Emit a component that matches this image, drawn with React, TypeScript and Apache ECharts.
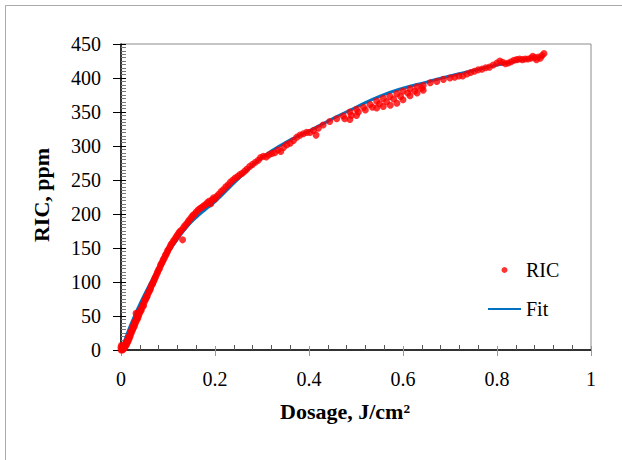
import React, { useEffect, useRef } from "react";
import * as echarts from "echarts";

// Measured RIC points: dosage (J/cm²) and RIC (ppm)
const ricDose: number[] = [
  0, 0, 0.001, 0.002, 0.003, 0.004, 0.005, 0.006, 0.007, 0.008, 0.009, 0.01, 0.011, 0.012, 0.013, 0.014,
  0.015, 0.016, 0.017, 0.018, 0.019, 0.02, 0.021, 0.022, 0.023, 0.024, 0.025, 0.026, 0.027, 0.028, 0.029,
  0.03, 0.031, 0.032, 0.033, 0.034, 0.035, 0.036, 0.037, 0.038, 0.039, 0.04, 0.042, 0.043, 0.045, 0.047,
  0.048, 0.05, 0.052, 0.053, 0.055, 0.056, 0.058, 0.06, 0.062, 0.063, 0.065, 0.067, 0.068, 0.07, 0.072,
  0.073, 0.075, 0.077, 0.078, 0.08, 0.082, 0.084, 0.085, 0.087, 0.089, 0.09, 0.092, 0.094, 0.095, 0.097,
  0.099, 0.1, 0.103, 0.105, 0.107, 0.11, 0.112, 0.115, 0.117, 0.12, 0.123, 0.125, 0.128, 0.131, 0.133,
  0.136, 0.14, 0.143, 0.146, 0.15, 0.153, 0.157, 0.16, 0.164, 0.168, 0.172, 0.176, 0.18, 0.184, 0.188,
  0.191, 0.194, 0.197, 0.2, 0.204, 0.208, 0.213, 0.218, 0.223, 0.228, 0.233, 0.238, 0.243, 0.248, 0.253,
  0.258, 0.263, 0.268, 0.274, 0.28, 0.286, 0.292, 0.297, 0.303, 0.309, 0.315, 0.321, 0.327, 0.334, 0.34,
  0.346, 0.353, 0.36, 0.367, 0.374, 0.381, 0.388, 0.395,
  0.402, 0.41, 0.415, 0.42, 0.43, 0.444, 0.459, 0.473, 0.476, 0.487, 0.487, 0.49, 0.501, 0.501, 0.505,
  0.516, 0.52, 0.53, 0.535, 0.544, 0.544, 0.55, 0.558, 0.558, 0.565, 0.572, 0.573, 0.58, 0.587, 0.587,
  0.595, 0.6, 0.6, 0.61, 0.615, 0.615, 0.625, 0.63, 0.63, 0.64, 0.643, 0.643, 0.658, 0.672, 0.686, 0.7,
  0.71, 0.719, 0.727, 0.736, 0.744, 0.752, 0.76, 0.768, 0.776, 0.784, 0.792, 0.8, 0.806, 0.812, 0.818,
  0.824, 0.83, 0.836, 0.842, 0.848, 0.854, 0.86, 0.866, 0.872, 0.876, 0.88, 0.884, 0.888, 0.892, 0.896, 0.9,
];
const ricValue: number[] = [
  0, 4, 7, 2, 0, 3, 1, 5, 3, 7, 5, 9, 7, 12, 10, 15,
  13, 18, 16, 21, 19, 25, 23, 28, 27, 31, 30, 35, 33, 38, 36,
  42, 40, 54, 46, 44, 49, 47, 53, 51, 56, 55, 59, 58, 63, 67,
  65, 71, 74, 76, 78, 80, 84, 86, 89, 91, 95, 97, 99, 102, 105,
  107, 110, 113, 115, 118, 120, 124, 126, 128, 131, 133, 135, 138, 140, 142,
  145, 147, 150, 153, 156, 158, 161, 163, 166, 169, 172, 174, 176, 162, 180,
  183, 186, 189, 192, 195, 198, 200, 203, 206, 208, 210, 212, 214, 217, 219,
  215, 221, 224, 222, 226, 229, 233, 236, 240, 243, 247, 250, 253, 255, 258,
  260, 263, 266, 270, 273, 276, 279, 283, 285, 284, 287, 289, 290, 294, 292,
  298, 302, 304, 308, 313, 316, 318, 320,
  320, 323, 316, 326, 331, 336, 340, 344, 340, 350, 339, 345, 354, 345, 350,
  357, 353, 361, 357, 366, 356, 362, 370, 358, 365, 373, 360, 369, 377, 363,
  373, 381, 368, 378, 384, 374, 381, 387, 378, 385, 389, 382, 393, 395, 398, 400,
  401, 403, 403, 406, 408, 410, 412, 413, 415, 416, 419, 422, 425, 423, 421,
  422, 424, 426, 427, 428, 427, 428, 428, 429, 432, 430, 427, 431, 429, 433, 436,
];

// Fit curve
const fitDose: number[] = [
  0, 0.01, 0.02, 0.03, 0.04, 0.06, 0.08, 0.1, 0.12, 0.14, 0.16, 0.18, 0.2, 0.25, 0.3, 0.35, 0.4,
  0.45, 0.5, 0.55, 0.6, 0.65, 0.7, 0.75, 0.8, 0.85, 0.9,
];
const fitValue: number[] = [
  0, 18, 36, 52, 67, 95, 120, 143, 163, 181, 195, 207, 218, 252, 283, 305, 322,
  340, 357, 373, 385, 394, 403, 411, 419, 426, 432,
];

const serif = "'Liberation Serif', 'Times New Roman', serif";

export default function App() {
  const ref = useRef<HTMLDivElement>(null);
  useEffect(() => {
    if (!ref.current) return;
    const chart = echarts.init(ref.current, null, { renderer: "svg" });
    const ric = ricDose.map((d, i) => [d, ricValue[i]]);
    const fit = fitDose.map((d, i) => [d, fitValue[i]]);
    chart.setOption({
      animation: false,
      backgroundColor: "#ffffff",
      grid: {
        left: 121, right: 31, top: 44, bottom: 110,
        show: true, borderColor: "#8c8c8c", borderWidth: 1, backgroundColor: "transparent",
      },
      legend: {
        orient: "vertical",
        left: 487,
        top: 260,
        padding: 0,
        itemWidth: 33,
        itemHeight: 6,
        itemGap: 19,
        textStyle: { fontFamily: serif, fontSize: 20, color: "#000" },
        data: [
          { name: "RIC" },
          { name: "Fit", itemStyle: { color: "rgba(0,0,0,0)", opacity: 0, borderWidth: 0 } },
        ],
      },
      xAxis: [
        {
          type: "value",
          position: "bottom",
          min: 0,
          max: 1,
          interval: 0.2,
          splitLine: { show: false },
          axisLine: { show: true, onZero: false, lineStyle: { color: "#000", width: 1.5 } },
          axisTick: { show: true, inside: true, length: 4, lineStyle: { color: "#999" } },
          minorTick: { show: true, splitNumber: 5, length: 5, lineStyle: { color: "#555" } },
          axisLabel: { fontFamily: serif, fontSize: 20, color: "#000", margin: 19 },
        },
        {
          type: "value",
          position: "bottom",
          min: 0,
          max: 1,
          interval: 0.2,
          splitLine: { show: false },
          axisLine: { show: false },
          axisTick: { show: true, inside: false, length: 6, lineStyle: { color: "#999" } },
          axisLabel: { show: false },
        },
      ],
      yAxis: [
        {
          type: "value",
          position: "left",
          min: 0,
          max: 450,
          interval: 50,
          splitLine: { show: false },
          axisLine: { show: true, onZero: false, lineStyle: { color: "#000", width: 1.5 } },
          axisTick: { show: true, inside: true, length: 5, lineStyle: { color: "#000" } },
          minorTick: { show: true, splitNumber: 10, length: 5, lineStyle: { color: "#777" } },
          axisLabel: { fontFamily: serif, fontSize: 20, color: "#000", margin: 20 },
        },
        {
          type: "value",
          position: "left",
          min: 0,
          max: 450,
          interval: 50,
          splitLine: { show: false },
          axisLine: { show: false },
          axisTick: { show: true, inside: false, length: 8, lineStyle: { color: "#000" } },
          axisLabel: { show: false },
        },
      ],
      series: [
        {
          name: "Fit",
          type: "line",
          data: fit,
          smooth: true,
          showSymbol: false,
          symbol: "none",
          lineStyle: { color: "#0070C0", width: 3 },
          itemStyle: { color: "#0070C0" },
          z: 2,
        },
        {
          name: "RIC",
          type: "scatter",
          data: ric,
          symbol: "circle",
          symbolSize: 7,
          itemStyle: { color: "#FF0000" },
          z: 3,
        },
      ],
      graphic: [
        {
          type: "rect",
          shape: { x: 5.5, y: 5.5, width: 640, height: 480 },
          style: { fill: "none", stroke: "#aaaaaa", lineWidth: 1 },
          silent: true,
        },
        {
          type: "text",
          x: 41,
          y: 195,
          rotation: Math.PI / 2,
          style: {
            text: "RIC, ppm",
            font: `bold 22px ${serif}`,
            fill: "#000",
            align: "center",
            verticalAlign: "middle",
          },
        },
        {
          type: "text",
          x: 345,
          y: 411,
          style: {
            text: "Dosage, J/cm²",
            font: `bold 22px ${serif}`,
            fill: "#000",
            align: "center",
            verticalAlign: "middle",
          },
        },
      ],
    });
    return () => chart.dispose();
  }, []);
  return <div ref={ref} style={{ position: "absolute", left: 0, top: 0, width: 622, height: 460 }} />;
}
